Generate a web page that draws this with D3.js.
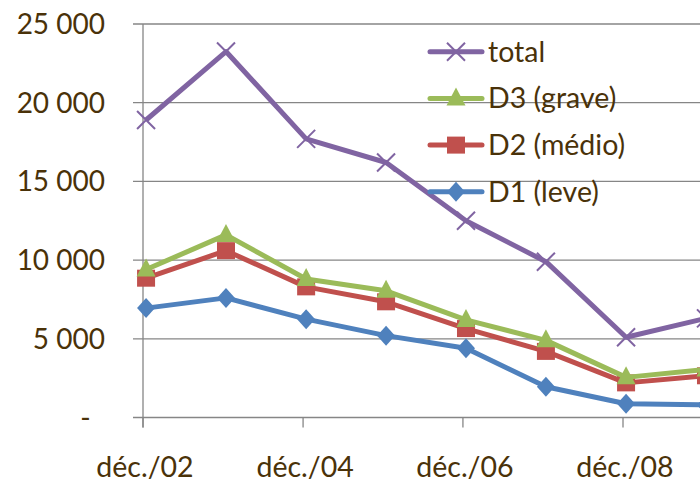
<!DOCTYPE html>
<html>
<head>
<meta charset="utf-8">
<script src="https://cdn.jsdelivr.net/npm/d3@7"></script>
<style>
  html, body { margin: 0; padding: 0; background: #fff; overflow: hidden; }
  svg { display: block; }
  text { font-family: Lato, "Open Sans", sans-serif; fill: #4a3209; }
</style>
</head>
<body>
<svg id="chart" width="700" height="482"></svg>
<script>
// ---- data ----
const dates = ["2002-12-15","2003-12-15","2004-12-15","2005-12-15","2006-12-15","2007-12-15","2008-12-15","2009-12-15"];
const total = [18900, 23250, 17700, 16200, 12500, 9900, 5100, 6300];
const d3grave = [9400, 11600, 8800, 8050, 6200, 4900, 2550, 3050];
const d2medio = [8850, 10600, 8300, 7350, 5650, 4200, 2200, 2650];
const d1leve = [6950, 7600, 6250, 5200, 4400, 1950, 870, 800];
const xTickDates = ["2002-12-01","2004-12-01","2006-12-01","2008-12-01"];
const xTickLabels = ["déc./02","déc./04","déc./06","déc./08"];
const yTicks = [0, 5000, 10000, 15000, 20000, 25000];
const yTickLabels = ["-\u00a0\u00a0", "5 000", "10 000", "15 000", "20 000", "25 000"];
const seriesNames = ["total", "D3 (grave)", "D2 (médio)", "D1 (leve)"];

// ---- setup ----
const parse = d3.timeParse("%Y-%m-%d");
const svg = d3.select("#chart");
const x = d3.scaleTime()
  .domain([parse("2002-12-01"), parse("2008-12-01")])
  .range([143, 623]);
const y = d3.scaleLinear().domain([0, 25000]).range([417.5, 24]);

const gridColor = "#868686";

// gridlines + y ticks
svg.append("g").selectAll("line").data(yTicks).join("line")
  .attr("x1", 133).attr("x2", 700)
  .attr("y1", d => y(d)).attr("y2", d => y(d))
  .attr("stroke", gridColor).attr("stroke-width", 1.3);

// y axis line
svg.append("line")
  .attr("x1", x(parse("2002-12-01"))).attr("x2", x(parse("2002-12-01")))
  .attr("y1", y(25000)).attr("y2", y(0) + 10)
  .attr("stroke", gridColor).attr("stroke-width", 1.3);

// x ticks
svg.append("g").selectAll("line").data(xTickDates).join("line")
  .attr("x1", d => x(parse(d))).attr("x2", d => x(parse(d)))
  .attr("y1", y(0)).attr("y2", y(0) + 10)
  .attr("stroke", gridColor).attr("stroke-width", 1.3);

// y labels
svg.append("g").selectAll("text").data(yTicks).join("text")
  .attr("x", 105).attr("y", d => y(d) + 10)
  .attr("text-anchor", "end")
  .attr("font-size", 28)
  .style("white-space", "pre")
  .text((d, i) => yTickLabels[i]);

// x labels
svg.append("g").selectAll("text").data(xTickDates).join("text")
  .attr("x", d => x(parse(d)) + 2).attr("y", 477)
  .attr("text-anchor", "middle")
  .attr("font-size", 28.5)
  .text((d, i) => xTickLabels[i]);

// ---- markers ----
function marker(sel, type, color) {
  if (type === "diamond") {
    sel.append("path").attr("d", "M0,-10L9,0L0,10L-9,0Z").attr("fill", color);
  } else if (type === "square") {
    sel.append("rect").attr("x", -9).attr("y", -8.5).attr("width", 18).attr("height", 17).attr("fill", color);
  } else if (type === "triangle") {
    sel.append("path").attr("d", "M0,-11L9.5,7L-9.5,7Z").attr("fill", color);
  } else if (type === "x") {
    sel.append("path").attr("d", "M-9,-9L9,9M-9,9L9,-9").attr("stroke", color).attr("stroke-width", 2).attr("fill", "none");
  }
}

const series = [
  { name: seriesNames[3], values: d1leve, color: "#4F81BD", marker: "diamond" },
  { name: seriesNames[2], values: d2medio, color: "#C0504D", marker: "square" },
  { name: seriesNames[1], values: d3grave, color: "#9BBB59", marker: "triangle" },
  { name: seriesNames[0], values: total, color: "#8064A2", marker: "x" }
];

const line = d3.line().x((d, i) => x(parse(dates[i]))).y(d => y(d));

series.forEach(s => {
  svg.append("path").datum(s.values)
    .attr("d", line)
    .attr("fill", "none")
    .attr("stroke", s.color)
    .attr("stroke-width", 5)
    .attr("stroke-linejoin", "round");
  svg.append("g").selectAll("g").data(s.values).join("g")
    .attr("transform", (d, i) => `translate(${x(parse(dates[i]))},${y(d)})`)
    .each(function() { marker(d3.select(this), s.marker, s.color); });
});

// ---- legend ----
const legendOrder = [series[3], series[2], series[1], series[0]];
const lg = svg.append("g");
legendOrder.forEach((s, i) => {
  const ly = 51.7 + i * 46.7;
  const g = lg.append("g").attr("transform", `translate(0,${ly})`);
  g.append("line").attr("x1", 430).attr("x2", 482).attr("y1", 0).attr("y2", 0)
    .attr("stroke", s.color).attr("stroke-width", 5).attr("stroke-linecap", "round");
  const m = g.append("g").attr("transform", "translate(456,0)");
  marker(m, s.marker, s.color);
  g.append("text").attr("x", 488).attr("y", 10).attr("font-size", 28.5).text(s.name);
});
</script>
</body>
</html>
